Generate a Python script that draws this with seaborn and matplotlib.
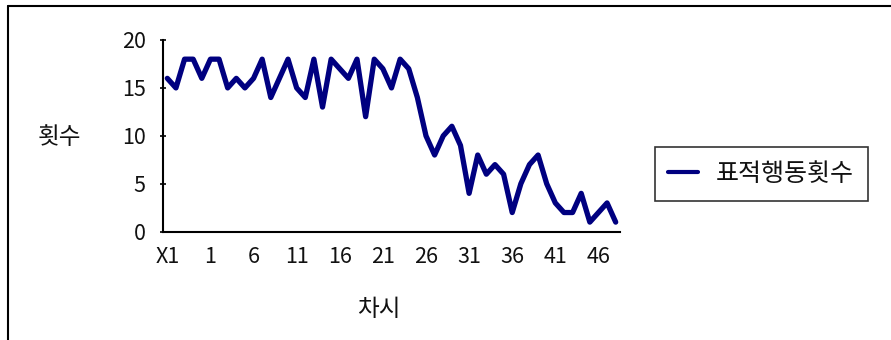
import matplotlib
matplotlib.use("Agg")
import matplotlib.pyplot as plt
from matplotlib.lines import Line2D
import seaborn as sns
import pandas as pd

# Sessions: baseline X1-X5 followed by treatment sessions 1-48
sessions = ["X1", "X2", "X3", "X4", "X5"] + [str(i) for i in range(1, 49)]
counts = [16, 15, 18, 18, 16, 18, 18, 15, 16, 15,
          16, 18, 14, 16, 18, 15, 14, 18, 13, 18,
          17, 16, 18, 12, 18, 17, 15, 18, 17, 14,
          10, 8, 10, 11, 9, 4, 8, 6, 7, 6,
          2, 5, 7, 8, 5, 3, 2, 2, 4, 1,
          2, 3, 1]
series_name = "표적행동횟수"
y_title = "횟수"
x_title = "차시"
y_ticks = [0, 5, 10, 15, 20]

df = pd.DataFrame({"pos": range(len(sessions)), "session": sessions, "count": counts})

sns.set_theme(style="white")
plt.rcParams["font.family"] = ["Noto Sans CJK KR", "DejaVu Sans"]

W, H = 891, 340
fig = plt.figure(figsize=(W / 100, H / 100), dpi=100)
ax = fig.add_axes([163 / W, 1 - 231.7 / H, (620 - 163) / W, (231.7 - 40) / H])

sns.lineplot(data=df, x="pos", y="count", ax=ax, color="#000080",
             linewidth=3.8, label=series_name, legend=False)

ax.set_xlim(-0.5, len(sessions) - 0.5)
ax.set_ylim(0, 20)
ax.set_yticks(y_ticks)
ax.set_yticklabels([str(v) for v in y_ticks])
tick_idx = list(range(0, len(sessions), 5))
ax.set_xticks(tick_idx)
ax.set_xticklabels([sessions[i] for i in tick_idx])

for side in ("top", "right"):
    ax.spines[side].set_visible(False)
for side in ("left", "bottom"):
    ax.spines[side].set_color("black")
    ax.spines[side].set_linewidth(1.5)

ax.tick_params(axis="y", direction="inout", length=5, width=1.2, color="black",
               labelsize=15.5, pad=10, left=True, labelcolor="#111111")
ax.tick_params(axis="x", length=0, labelsize=15.5, pad=10, labelcolor="#111111")
ax.set_xlabel("")
ax.set_ylabel("")
ax.grid(False)

fig.text(59 / W, 1 - 138 / H, y_title, ha="center", va="center", fontsize=17, color="#111111")
fig.text(379 / W, 1 - 310 / H, x_title, ha="center", va="center", fontsize=17, color="#111111")

handle = Line2D([], [], color="#000080", linewidth=3.0)
leg = fig.legend([handle], [series_name], loc="center",
                 bbox_to_anchor=(761 / W, 1 - 174 / H), frameon=True, fancybox=False,
                 fontsize=18, handlelength=1.2, handletextpad=0.7, borderpad=0.55,
                 borderaxespad=0)
leg.get_frame().set_edgecolor("black")
leg.get_frame().set_linewidth(1.2)
for t in leg.get_texts():
    t.set_color("#111111")

# outer chart frame
fig.add_artist(Line2D([7.5 / W, 7.5 / W], [0, 1 - 5.5 / H], color="black", linewidth=1.5,
                      transform=fig.transFigure))
fig.add_artist(Line2D([7.5 / W, 1], [1 - 5.5 / H, 1 - 5.5 / H], color="black", linewidth=1.5,
                      transform=fig.transFigure))

fig.savefig("out.png", dpi=100)
